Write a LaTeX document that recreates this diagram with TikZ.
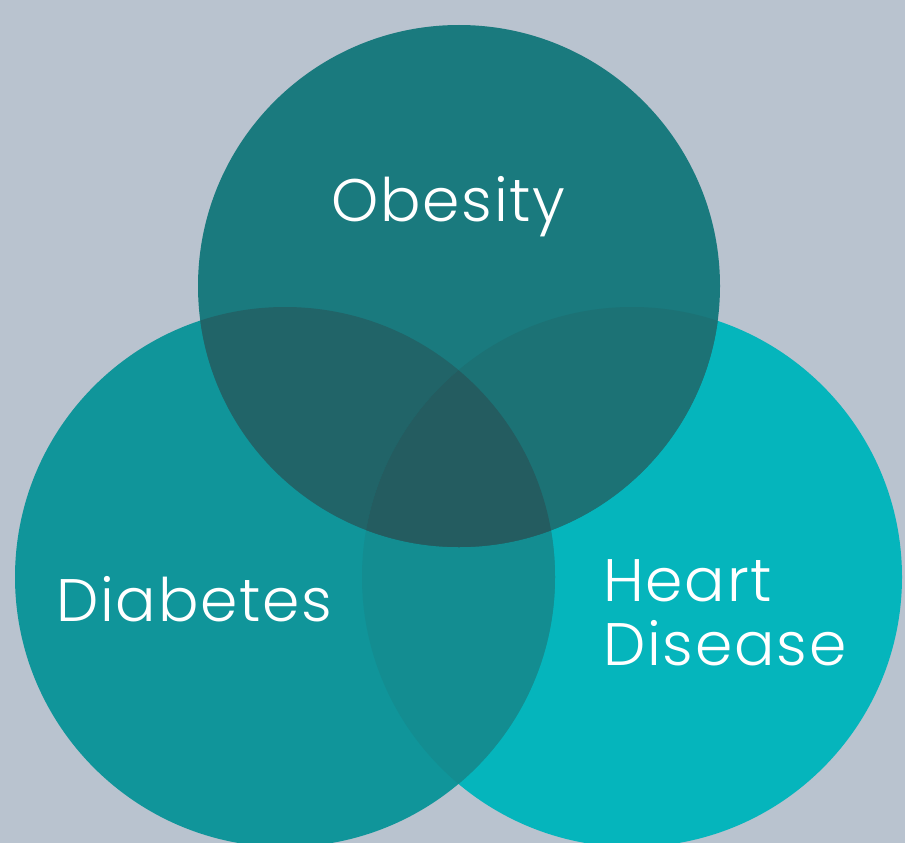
\documentclass[tikz,border=0pt]{standalone}
\usepackage{fontspec}
\setmainfont{Poppins Light}[LetterSpace=3]
\definecolor{bg}{HTML}{B9C3CF}
\definecolor{cob}{HTML}{1A7A7E}
\definecolor{cdi}{HTML}{10959A}
\definecolor{che}{HTML}{05B5BC}
\definecolor{cod}{HTML}{216468}
\definecolor{coh}{HTML}{1C7275}
\definecolor{cdh}{HTML}{138D91}
\definecolor{cal}{HTML}{245C60}
\begin{document}
\begin{tikzpicture}[x=1pt,y=-1pt,
  lbl/.style={text=white,font=\fontsize{60}{64}\selectfont,inner sep=0pt,anchor=base west,align=left}]
\fill[bg] (0,0) rectangle (905,843);
\useasboundingbox (0,0) rectangle (905,843);
\begin{scope}
\clip (0,0) rectangle (905,843);
\def\ob{(459,286) circle[radius=261]}
\def\di{(285,577) circle[radius=270]}
\def\he{(632,577) circle[radius=270]}
\fill[che] \he;
\fill[cdi] \di;
\begin{scope}\clip \di; \fill[cdh] \he; \end{scope}
\fill[cob] \ob;
\begin{scope}\clip \ob; \fill[cod] \di; \end{scope}
\begin{scope}\clip \ob; \fill[coh] \he; \end{scope}
\begin{scope}\clip \ob; \clip \di; \fill[cal] \he; \end{scope}
\end{scope}
\node[lbl] (obesity) at (331,221) {Obesity};
\node[lbl] (diabetes) at (56,621) {Diabetes};
\node[lbl,anchor=north west] (heart) at (603,559) {Heart\\Disease};
\end{tikzpicture}
\end{document}
